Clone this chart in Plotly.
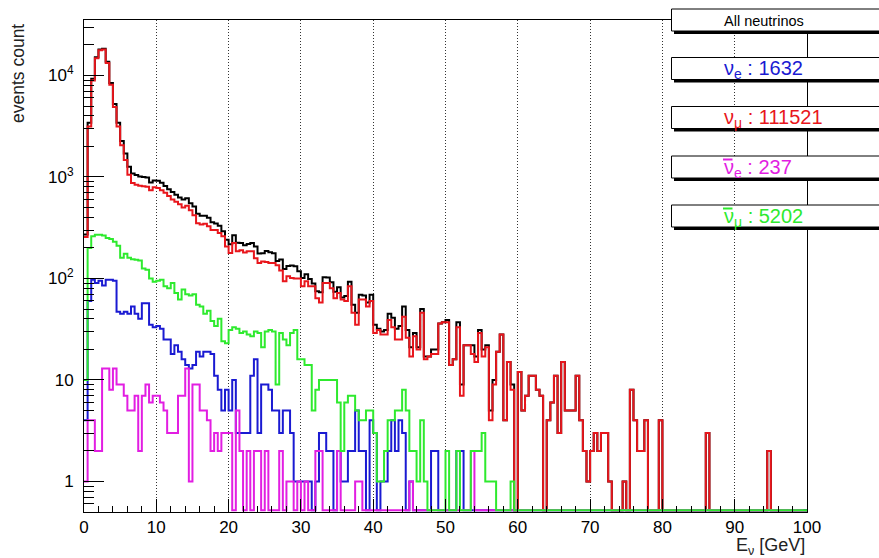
import math
import plotly.graph_objects as go

# ---------------- data (0.5 GeV bins from 0 to 100 GeV) ----------------
BIN_WIDTH = 0.5
E_MIN, E_MAX = 0.0, 100.0

nu_mu = [
    256, 3150, 8900, 14800, 17700, 18000, 13300, 8100, 4900, 3150,
    2050, 1470, 1050, 870, 840, 820, 810, 800, 740, 790,
    780, 740, 700, 650, 600, 570, 540, 500, 520, 470,
    420, 350, 340, 345, 326, 300, 300, 280, 260, 207,
    178, 223, 185, 190, 180, 185, 185, 158, 142, 147,
    145, 142, 142, 135, 120, 94, 105, 101, 100, 100,
    84, 94, 84, 84, 64, 58, 90, 90, 80, 64,
    72, 62, 60, 84, 46, 35, 62, 62, 53, 60,
    29, 31, 28, 28, 39, 33, 25, 25, 42, 26,
    17, 27, 20, 46, 16, 17, 18, 18, 36, 37,
    37, 14, 16, 33, 7, 22, 22, 18, 15, 29,
    17, 21, 4, 9, 19, 28, 4, 15, 8, 0,
    12, 5, 7, 11, 11, 8, 7, 0, 4, 6,
    11, 3, 15, 5, 5, 5, 11, 4, 2, 1,
    2, 3, 2, 3, 3, 1, 0, 0, 0, 1,
    0, 8, 4, 2, 2, 4, 0, 0, 0, 4,
    0, 0, 0, 0, 0, 0, 0, 0, 0, 0,
    0, 0, 3, 0, 0, 0, 0, 0, 0, 0,
    0, 0, 0, 0, 0, 0, 0, 0, 0, 2,
    0, 0, 0, 0, 0, 0, 0, 0, 0, 0,
]

anti_nu_mu = [
    10, 200, 260, 270, 270, 265, 250, 245, 230, 210,
    160, 175, 160, 155, 153, 150, 125, 122, 100, 93,
    95, 97, 84, 80, 90, 72, 62, 78, 70, 68,
    70, 55, 53, 45, 48, 38, 34, 40, 24, 23,
    31, 33, 32, 29, 30, 28, 27, 30, 29, 21,
    30, 31, 30, 9, 29, 25, 22, 29, 31, 16,
    16, 14, 14, 5, 8, 10, 10, 10, 10, 10,
    6, 2, 6, 7, 7, 5, 4, 4, 5, 5,
    3, 1, 1, 2, 4, 4, 5, 5, 8, 5,
    2, 2, 1, 4, 1, 0, 0, 0, 0, 0,
    2, 0, 0, 2, 0, 0, 0, 2, 2, 2,
    3, 1, 1, 1, 0, 0, 0, 0, 1, 0,
] + [0] * 80

nu_e = [
    4, 60, 97, 90, 95, 85, 97, 97, 95, 47,
    45, 47, 45, 53, 45, 40, 57, 57, 35, 33,
    34, 32, 25, 25, 18, 22, 19, 16, 14, 13,
    14, 19, 17, 19, 19, 18, 11, 8, 5, 8,
    5, 10, 3, 3, 3, 3, 11, 16, 3, 9,
    9, 8, 5, 5, 3, 5, 5, 3, 1, 1,
    1, 1, 1, 0, 1, 3, 3, 2, 2, 0,
    2, 1, 1, 2, 2, 5, 2, 2, 0, 4,
    3, 0, 1, 1, 2, 4, 2, 4, 3, 0,
    1, 0, 0, 0, 0, 0, 2, 2, 0, 0,
    0, 0, 0, 2, 2, 0, 0, 0, 0, 0,
] + [0] * 90

anti_nu_e = [
    1, 4, 4, 2, 2, 13, 13, 8, 13, 9,
    9, 7, 5, 5, 7, 2, 7, 9, 6, 7,
    7, 6, 5, 3, 3, 3, 7, 7, 13, 1,
    9, 9, 5, 5, 4, 2, 3, 2, 3, 3,
    3, 0, 5, 2, 0, 2, 0, 2, 2, 0,
    2, 0, 0, 0, 2, 0, 1, 1, 0, 1,
    0, 1, 0, 0, 2, 2, 0, 0, 0, 0,
    2, 0, 0, 0, 0, 1, 1, 0, 0, 0,
    0, 0, 0, 0, 0, 0, 0, 0, 0, 0,
    1, 0, 0, 0, 0, 0, 0, 0, 0, 0,
    0, 0, 0, 0, 0, 0, 0, 2, 0, 0,
] + [0] * 89

all_nu = [
    271, 3414, 9261, 15162, 18067, 18363, 13660, 8450, 5238, 3416,
    2264, 1699, 1260, 1083, 1045, 1012, 999, 988, 881, 923,
    916, 875, 814, 758, 711, 667, 628, 601, 617, 552,
    513, 433, 415, 414, 397, 358, 348, 330, 292, 241,
    217, 266, 225, 224, 213, 218, 223, 206, 176, 177,
    186, 181, 177, 149, 154, 124, 133, 134, 132, 118,
    101, 110, 99, 89, 75, 73, 103, 102, 92, 74,
    82, 65, 67, 93, 55, 46, 69, 68, 58, 69,
    35, 32, 30, 31, 45, 41, 32, 34, 53, 31,
    21, 29, 21, 50, 17, 17, 20, 20, 36, 37,
    39, 14, 16, 37, 9, 22, 22, 22, 17, 31,
    20, 22, 5, 10, 19, 28, 4, 15, 9, 0,
    12, 5, 7, 11, 11, 8, 7, 0, 4, 6,
    11, 3, 15, 5, 5, 5, 11, 4, 2, 1,
    2, 3, 2, 3, 3, 1, 0, 0, 0, 1,
    0, 8, 4, 2, 2, 4, 0, 0, 0, 4,
    0, 0, 0, 0, 0, 0, 0, 0, 0, 0,
    0, 0, 3, 0, 0, 0, 0, 0, 0, 0,
    0, 0, 0, 0, 0, 0, 0, 0, 0, 2,
    0, 0, 0, 0, 0, 0, 0, 0, 0, 0,
]

legend_title = "All neutrinos"
legend_labels = [
    "ν<sub>e</sub> : 1632",
    "ν<sub>μ</sub> : 111521",
    "ν<sub>e</sub> : 237",
    "ν<sub>μ</sub> : 5202",
]
legend_antiparticle = [False, False, True, True]

x_tickvals = [0, 10, 20, 30, 40, 50, 60, 70, 80, 90, 100]
y_tickvals = [1, 10, 100, 1000, 10000]
y_ticktext = ["1", "10", "10<sup>2</sup>", "10<sup>3</sup>", "10<sup>4</sup>"]
y_minor = ([0.6, 0.7, 0.8, 0.9]
           + [m * 10 ** d for d in range(0, 4) for m in range(2, 10)]
           + [20000, 30000])

# ---------------- style ----------------
Y_MIN, Y_MAX = 0.5, 35200
ZERO_LEVEL = 0.52
FONT = "Liberation Sans, Arial, Helvetica, sans-serif"
COL_ALL = "#000000"
COL_NUMU = "#e8161c"
COL_NUE = "#1a1ad2"
COL_ANUE = "#e21ee2"
COL_ANUMU = "#2eea2e"

W, H = 879, 558
ML, MR, MT, MB = 84, 72, 20, 46
PW, PH = W - ML - MR, H - MT - MB


def xp(px):
    return (px - ML) / PW


def yp(py):
    return 1 - (py - MT) / PH


def step(vals):
    n = len(vals)
    xs = [E_MIN + i * BIN_WIDTH for i in range(n)] + [E_MIN + n * BIN_WIDTH]
    ys = [v if v > 0 else ZERO_LEVEL for v in vals]
    ys = ys + [ys[-1]]
    return xs, ys


fig = go.Figure()
for vals, col, name in [
    (all_nu, COL_ALL, "all"),
    (nu_mu, COL_NUMU, "nu_mu"),
    (nu_e, COL_NUE, "nu_e"),
    (anti_nu_e, COL_ANUE, "anti_nu_e"),
    (anti_nu_mu, COL_ANUMU, "anti_nu_mu"),
]:
    xs, ys = step(vals)
    fig.add_trace(go.Scatter(x=xs, y=ys, mode="lines", name=name,
                             line=dict(color=col, width=2, shape="hv"),
                             showlegend=False, hoverinfo="skip"))

fig.update_layout(
    width=W, height=H,
    margin=dict(l=ML, r=MR, t=MT, b=MB),
    paper_bgcolor="white", plot_bgcolor="white",
    font=dict(family=FONT, color="black", size=17),
    showlegend=False,
)

fig.update_xaxes(
    range=[E_MIN, E_MAX], tickvals=x_tickvals,
    ticks="inside", ticklen=13, tickcolor="black", tickwidth=1,
    showline=True, linecolor="black", linewidth=1, mirror=True,
    showgrid=True, gridcolor="#333333", gridwidth=1, griddash="1px,2px",
    zeroline=False, tickfont=dict(size=17, family=FONT),
    minor=dict(dtick=2, ticks="inside", ticklen=6, tickcolor="black",
               showgrid=False),
)
fig.update_yaxes(
    type="log", range=[math.log10(Y_MIN), math.log10(Y_MAX)],
    tickvals=y_tickvals, ticktext=y_ticktext,
    ticks="inside", ticklen=20, tickcolor="black", tickwidth=1,
    showline=True, linecolor="black", linewidth=1, mirror=True,
    showgrid=False, zeroline=False, tickfont=dict(size=17, family=FONT),
    ticklabelstandoff=6,
    minor=dict(tickvals=y_minor, ticks="inside", ticklen=10,
               tickcolor="black", showgrid=False),
)

# axis titles
fig.add_annotation(text="events count", xref="paper", yref="paper",
                   x=xp(18), y=yp(74), textangle=-90, showarrow=False,
                   xanchor="center", yanchor="middle",
                   font=dict(size=17.5, family=FONT, color="#222222"))
fig.add_annotation(text="E<sub>ν</sub> [GeV]", xref="paper", yref="paper",
                   x=xp(807), y=yp(546), showarrow=False,
                   xanchor="right", yanchor="middle",
                   font=dict(size=18, family=FONT, color="#222222"))

# legend boxes (ROOT TPaveText style with shadow)
box_tops = [9, 57.5, 106.5, 156, 205]
box_h = 22
TEXT_LEFT = 722
texts = [legend_title] + legend_labels
colors = ["black", COL_NUE, COL_NUMU, COL_ANUE, COL_ANUMU]
sizes = [14.5, 20, 20, 20, 20]
bars = [False] + legend_antiparticle
for top, txt, col, sz, bar in zip(box_tops, texts, colors, sizes, bars):
    fig.add_shape(type="rect", xref="paper", yref="paper",
                  x0=xp(674), x1=xp(905), y0=yp(top + 3), y1=yp(top + box_h + 3),
                  fillcolor="black", line=dict(width=0), layer="above")
    fig.add_shape(type="rect", xref="paper", yref="paper",
                  x0=xp(671.5), x1=xp(900), y0=yp(top), y1=yp(top + box_h),
                  fillcolor="white", line=dict(color="black", width=1), layer="above")
    fig.add_annotation(text=txt, xref="paper", yref="paper",
                       x=xp(TEXT_LEFT), y=yp(top + box_h / 2 + 1), showarrow=False,
                       xanchor="left", yanchor="middle",
                       font=dict(size=sz, family=FONT, color=col))
    if bar:
        fig.add_shape(type="line", xref="paper", yref="paper",
                      x0=xp(TEXT_LEFT + 1), x1=xp(TEXT_LEFT + 10.5),
                      y0=yp(top + 3.5), y1=yp(top + 3.5),
                      line=dict(color=col, width=2), layer="above")

fig.write_html("out.html")
